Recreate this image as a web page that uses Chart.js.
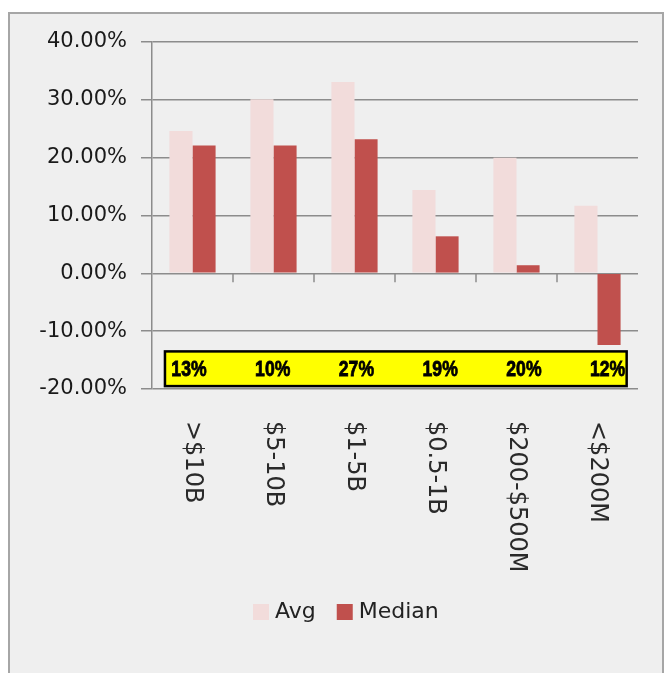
<!DOCTYPE html>
<html><head><meta charset="utf-8">
<script src="https://cdn.jsdelivr.net/npm/chart.js@4.4.1/dist/chart.umd.min.js"></script>
<style>
html,body{margin:0;padding:0;background:#fff;width:664px;height:673px;overflow:hidden}
#frame{position:absolute;left:8px;top:12px;width:652px;height:670px;background:#efefef;border:2px solid #a6a6a6;border-bottom:none}
#wrap{position:absolute;left:0;top:0;width:664px;height:673px}
</style></head><body>
<div id="frame"></div>
<div id="wrap"><canvas id="c"></canvas></div>
<script>
const categories = ['>$10B', '$5-10B', '$1-5B', '$0.5-1B', '$200-$500M', '<$200M'];
const avgValues = [24.6, 30.1, 33.1, 14.4, 20.0, 11.7];
const medianValues = [22.1, 22.1, 23.2, 6.4, 1.4, -12.4];
const boxLabels = ['13%', '10%', '27%', '19%', '20%', '12%'];
const seriesNames = ['Avg', 'Median'];
const seriesColors = ['#f2dcdb', '#c0504d'];

const gridColor = '#8c8c8c';

const extras = {
  id: 'extras',
  afterDatasetsDraw(chart) {
    const ctx = chart.ctx;
    const xs = chart.scales.x, ys = chart.scales.y;
    // category-boundary tick marks on the zero line
    const y0 = ys.getPixelForValue(0);
    ctx.save();
    ctx.strokeStyle = gridColor;
    ctx.lineWidth = 1.5;
    for (let i = 0; i < categories.length - 1; i++) {
      const bx = xs.getPixelForValue(i + 0.5);
      ctx.beginPath();
      ctx.moveTo(bx, y0);
      ctx.lineTo(bx, y0 + 9);
      ctx.stroke();
    }
    // yellow annotation box
    const left = xs.getPixelForValue(-0.34), right = xs.getPixelForValue(5.36);
    const top = ys.getPixelForValue(-13.5), bottom = ys.getPixelForValue(-19.5);
    ctx.fillStyle = '#ffff00';
    ctx.fillRect(left, top, right - left, bottom - top);
    ctx.strokeStyle = '#000';
    ctx.lineWidth = 2.5;
    ctx.strokeRect(left, top, right - left, bottom - top);
    ctx.fillStyle = '#000';
    ctx.font = 'bold 22px "Liberation Sans", Arial, sans-serif';
    ctx.textAlign = 'center';
    ctx.textBaseline = 'middle';
    ctx.lineWidth = 0.8;
    const inner0 = left + 24, inner1 = right - 19;
    boxLabels.forEach((t, i) => {
      const cx = inner0 + i * (inner1 - inner0) / (boxLabels.length - 1);
      ctx.save();
      ctx.translate(cx, (top + bottom) / 2 + 1);
      ctx.scale(0.8, 1);
      ctx.fillText(t, 0, 0);
      ctx.strokeText(t, 0, 0);
      ctx.restore();
    });
    ctx.restore();
  },
  afterDraw(chart) {
    const ctx = chart.ctx;
    const xs = chart.scales.x;
    const top = chart.chartArea.bottom + 32;
    ctx.save();
    ctx.fillStyle = '#2a2a2a';
    ctx.font = '24px "DejaVu Sans", sans-serif';
    ctx.textAlign = 'left';
    ctx.textBaseline = 'middle';
    categories.forEach((c, i) => {
      ctx.save();
      ctx.translate(xs.getPixelForValue(i), top);
      ctx.rotate(Math.PI / 2);
      ctx.fillText(c, 0, 0);
      ctx.restore();
    });
    // legend
    const ly = chart.chartArea.bottom + 223;
    let lx = 253;
    ctx.font = '22px "DejaVu Sans", sans-serif';
    chart.data.datasets.forEach((ds, i) => {
      ctx.fillStyle = ds.backgroundColor;
      ctx.fillRect(lx, ly - 8, 16, 16);
      lx += 16 + 6;
      ctx.fillStyle = '#222';
      ctx.fillText(ds.label, lx, ly);
      lx += ctx.measureText(ds.label).width + 21;
    });
    ctx.restore();
  }
};

new Chart(document.getElementById('c'), {
  type: 'bar',
  data: {
    labels: categories,
    datasets: [
      { label: seriesNames[0], data: avgValues, backgroundColor: seriesColors[0] },
      { label: seriesNames[1], data: medianValues, backgroundColor: seriesColors[1] }
    ]
  },
  options: {
    responsive: true,
    maintainAspectRatio: false,
    animation: false,
    categoryPercentage: 0.57,
    barPercentage: 1.0,
    layout: { padding: { left: 0, right: 26, top: 42, bottom: 0 } },
    plugins: {
      tooltip: { enabled: false },
      legend: { display: false }
    },
    scales: {
      x: {
        grid: { display: false },
        border: { display: false },
        ticks: { display: false },
        afterFit(s) { s.height = 284; }
      },
      y: {
        min: -20, max: 40,
        ticks: {
          stepSize: 10,
          padding: 14,
          color: '#1a1a1a',
          font: { family: '"DejaVu Sans", sans-serif', size: 21 },
          callback: v => v.toFixed(2) + '%'
        },
        grid: { color: gridColor, lineWidth: 1.5, tickLength: 11, drawTicks: true },
        border: { display: true, color: gridColor, width: 1.5 },
        afterFit(s) { s.width = 152; }
      }
    }
  },
  plugins: [extras]
});
</script>
</body></html>
